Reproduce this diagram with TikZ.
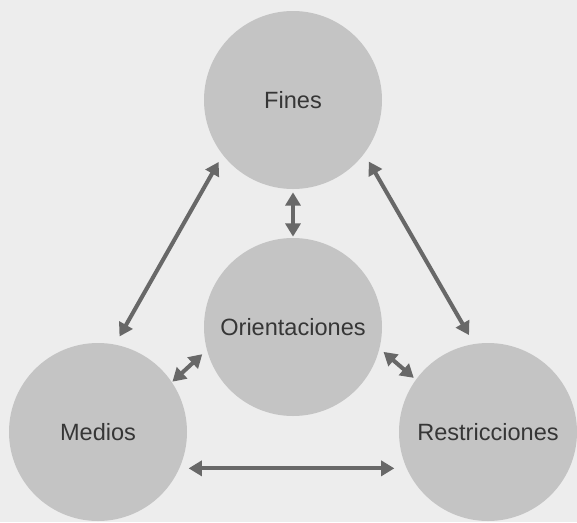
\documentclass[tikz,border=0pt]{standalone}
\usepackage{fontspec}
\setmainfont{Liberation Sans}
\usetikzlibrary{arrows.meta}
\definecolor{pagegray}{HTML}{EDEDED}
\definecolor{circgray}{HTML}{C4C4C4}
\definecolor{arrowgray}{HTML}{686868}
\definecolor{textgray}{HTML}{363636}
\tikzset{
        circ/.style={circle, fill=circgray, minimum size=3.56cm, inner sep=0pt,
                text=textgray, font=\fontsize{13.4}{16}\selectfont},
        link/.style={draw=arrowgray, line width=2.3pt,
                {Triangle[length=7.5pt,width=8.5pt]}-{Triangle[length=7.5pt,width=8.5pt]}}
}
\begin{document}
\begin{tikzpicture}
        \fill[pagegray] (0,0) rectangle (11.54,-10.44);
        \useasboundingbox (0,0) rectangle (11.54,-10.44);
        \node[circ] (fines) at (5.86,-2.00) {Fines};
        \node[circ] (orient) at (5.86,-6.54) {Orientaciones};
        \node[circ] (medios) at (1.96,-8.64) {Medios};
        \node[circ] (restr) at (9.76,-8.64) {Restricciones};
        \draw[link, shorten <=0.16cm, shorten >=0.18cm] (fines.218) -- (medios.79);
        \draw[link, shorten <=0.18cm, shorten >=0.20cm] (fines.323) -- (restr.99);
        \draw[link, shorten <=0.06cm, shorten >=0.02cm] (fines.south) -- (orient.north);
        \draw[link, shorten <=0.12cm, shorten >=0.01cm] (orient.195) -- (medios.34);
        \draw[link, shorten <=0.10cm, shorten >=0.05cm] (orient.346) -- (restr.144);
        \draw[link, shorten <=0.18cm, shorten >=0.24cm] (medios.336) -- (restr.204);
\end{tikzpicture}
\end{document}
